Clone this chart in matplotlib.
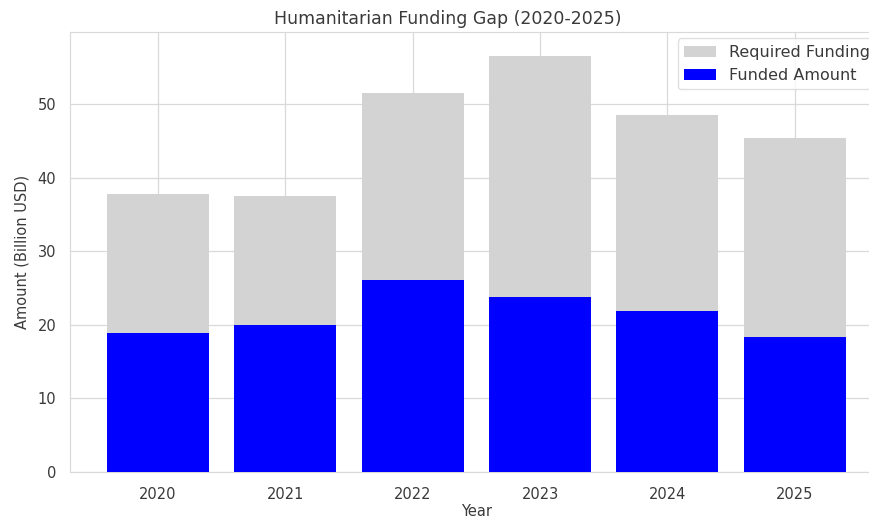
import matplotlib
matplotlib.use("Agg")
import matplotlib.pyplot as plt
import numpy as np

years = ["2020", "2021", "2022", "2023", "2024", "2025"]
required = [37.8, 37.5, 51.5, 56.5, 48.5, 45.4]
funded = [18.9, 20.0, 26.1, 23.8, 21.9, 18.3]

plt.rcParams['font.family'] = ['DejaVu Sans']
text_col = '#3a3a3a'

fig = plt.figure(figsize=(8.7, 5.2), dpi=100)
ax = fig.add_axes([0.0805, 0.0923, 0.934, 0.846])
x = np.arange(len(years))
ax.bar(x, required, width=0.8, color='#d3d3d3', label='Required Funding', zorder=2)
ax.bar(x, funded, width=0.8, color='#0000ff', label='Funded Amount', zorder=3)
ax.set_xticks(x)
ax.set_xticklabels(years)
ax.set_ylim(0, 59.8)
ax.set_xlim(-0.69, 5.69)
ax.grid(True, color='#d9d9d9', linewidth=0.9, zorder=0)
ax.set_axisbelow(True)
for s in ax.spines.values():
    s.set_color('#d9d9d9')
ax.tick_params(colors=text_col, labelsize=10.5, length=0)
ax.tick_params(axis='x', pad=11)
ax.tick_params(axis='y', pad=10)
ax.set_title('Humanitarian Funding Gap (2020-2025)', fontsize=12.5, color=text_col,
             pad=6, x=0.465)
ax.set_xlabel('Year', fontsize=10.5, color=text_col, labelpad=1.5)
ax.set_ylabel('Amount (Billion USD)', fontsize=10.5, color=text_col, labelpad=6)
leg = ax.legend(loc='upper right', fontsize=11.5, frameon=True, edgecolor='#d9d9d9',
                borderaxespad=0.4, handlelength=2.0)
for t in leg.get_texts():
    t.set_color(text_col)
fig.savefig('out.png', dpi=100)
